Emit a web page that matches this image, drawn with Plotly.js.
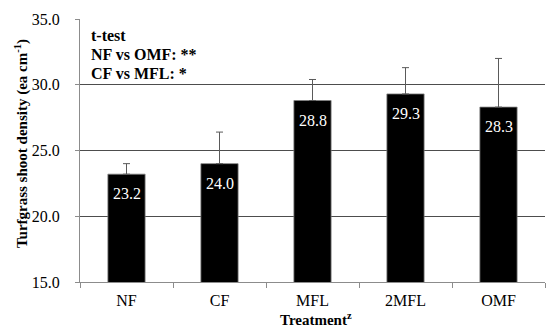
<!DOCTYPE html>
<html><head><meta charset="utf-8">
<script src="https://cdn.plot.ly/plotly-3.0.1.min.js"></script>
<style>html,body{margin:0;padding:0;background:#fff}#c{width:546px;height:330px}</style>
</head><body><div id="c"></div>
<script>
const categories = ["NF", "CF", "MFL", "2MFL", "OMF"];
const density = [23.2, 24.0, 28.8, 29.3, 28.3];
const errorUp = [0.8, 2.4, 1.6, 2.0, 3.7];
const valueLabels = ["23.2", "24.0", "28.8", "29.3", "28.3"];
const yTicks = [15, 20, 25, 30, 35];
const yTickLabels = ["15.0", "20.0", "25.0", "30.0", "35.0"];
const noteLines = ["t-test", "NF vs OMF: **", "CF vs MFL: *"];

const serif = "Liberation Serif";

const trace = {
  type: "bar",
  x: categories,
  y: density,
  base: 0,
  marker: {color: "#000000", line: {color: "#7f7f7f", width: 0.8}},
  error_y: {type: "data", symmetric: false, array: errorUp,
            arrayminus: errorUp.map(() => 0), color: "#5a5a5a", thickness: 1, width: 3.5},
  hoverinfo: "none"
};

const annotations = categories.map((c, i) => ({
  x: c, y: density[i], xref: "x", yref: "y",
  text: valueLabels[i], showarrow: false, yanchor: "top", yshift: -9,
  font: {family: serif, size: 16, color: "#ffffff"}
}));
noteLines.forEach((s, i) => annotations.push({
  xref: "paper", yref: "paper", x: 0.02, y: 1, xanchor: "left", yanchor: "middle",
  yshift: -(16.5 + 18.8 * i), align: "left", showarrow: false,
  text: "<b>" + s + "</b>",
  font: {family: serif, size: 16, color: "#000"}
}));
annotations.push({
  xref: "paper", yref: "paper", x: 0.508, y: -0.1, xanchor: "center", yanchor: "top",
  showarrow: false, text: "<b>Treatment<sup>z</sup></b>",
  font: {family: serif, size: 15, color: "#000"}
});
annotations.push({
  xref: "paper", yref: "paper", x: -0.127, y: 0.528, xanchor: "center", yanchor: "middle",
  textangle: -90, showarrow: false,
  text: "<b>Turfgrass shoot density (ea cm<sup>-1</sup>)</b>",
  font: {family: serif, size: 15, color: "#000"}
});

const layout = {
  width: 546, height: 330,
  margin: {l: 80, r: 1, t: 19, b: 48},
  paper_bgcolor: "#fff", plot_bgcolor: "#fff",
  showlegend: false,
  bargap: 0.6,
  font: {family: serif, color: "#000"},
  xaxis: {
    type: "category", showgrid: false, zeroline: false,
    showline: true, linecolor: "#8c8c8c", linewidth: 1,
    ticks: "outside", tickson: "boundaries", ticklen: 5, tickcolor: "#8c8c8c",
    tickfont: {family: serif, size: 16, color: "#000"}, ticklabelstandoff: 4
  },
  yaxis: {
    range: [15, 35], tickvals: yTicks, ticktext: yTickLabels,
    showgrid: true, gridcolor: "#4d4d4d", gridwidth: 1, zeroline: false,
    showline: true, linecolor: "#8c8c8c", linewidth: 1,
    ticks: "outside", ticklen: 4, tickcolor: "#8c8c8c",
    tickfont: {family: serif, size: 16, color: "#000"}, ticklabelstandoff: 12
  },
  annotations: annotations
};

Plotly.newPlot("c", [trace], layout, {staticPlot: true, displayModeBar: false});
</script></body></html>
